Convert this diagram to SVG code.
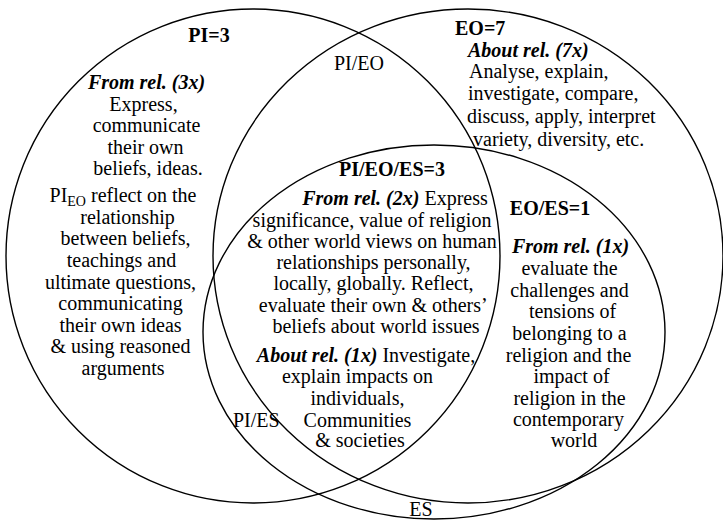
<svg xmlns="http://www.w3.org/2000/svg" width="723" height="520" viewBox="0 0 723 520">
<style>
.set{fill:none;stroke:#000;stroke-width:1.4}
text{font-family:"Liberation Serif","Times New Roman",serif;font-size:20px;fill:#000}
.b{font-weight:bold}
.bi{font-weight:bold;font-style:italic}
.c{text-anchor:middle}
</style>
<rect width="723" height="520" fill="#fff"/>
<g id="sets">
<g id="set-PI"><ellipse class="set" cx="253" cy="256" rx="247" ry="247"/></g>
<g id="set-EO"><ellipse class="set" cx="468" cy="256" rx="255" ry="247"/></g>
<g id="set-ES"><ellipse class="set" cx="434" cy="332" rx="231" ry="187"/></g>
</g>
<g id="connectors"></g>
<g id="region-PI">
<text class="b c" x="209" y="42">PI=3</text>
<text class="c" x="148">
<tspan class="bi" x="149" y="89">From rel. (3x)</tspan>
<tspan x="146" y="111">Express,</tspan>
<tspan x="149" y="132">communicate</tspan>
<tspan x="148" y="153.5">their own</tspan>
<tspan x="148" y="175">beliefs, ideas.</tspan>
</text>
<text class="c" x="123" y="202">PI<tspan font-size="14" dy="4">EO</tspan><tspan dy="-4"> reflect on the</tspan></text>
<text class="c">
<tspan x="130" y="223.5">relationship</tspan>
<tspan x="128" y="245">between beliefs,</tspan>
<tspan x="124" y="267">teachings and</tspan>
<tspan x="123" y="288.5">ultimate questions,</tspan>
<tspan x="123" y="310">communicating</tspan>
<tspan x="123" y="331.5">their own ideas</tspan>
<tspan x="123" y="353">&amp; using reasoned</tspan>
<tspan x="123" y="375">arguments</tspan>
</text>
</g>
<g id="region-PI-EO">
<text x="334" y="70">PI/EO</text>
</g>
<g id="region-EO">
<text class="b" x="455" y="35">EO=7</text>
<text class="bi" x="468" y="57">About rel. (7x)</text>
<text>
<tspan x="469" y="78">Analyse, explain,</tspan>
<tspan x="468" y="100">investigate, compare,</tspan>
<tspan x="467" y="123">discuss, apply, interpret</tspan>
<tspan x="473" y="146">variety, diversity, etc.</tspan>
</text>
</g>
<g id="region-PI-EO-ES">
<text class="b c" x="392" y="176">PI/EO/ES=3</text>
<text class="c" x="395" y="205"><tspan class="bi">From rel. (2x)</tspan> Express</text>
<text class="c">
<tspan x="374.5" y="227">significance, value of religion</tspan>
<tspan x="374.5" y="248">&amp; other world views on human</tspan>
<tspan x="376" y="269">relationships personally,</tspan>
<tspan x="376" y="290">locally, globally. Reflect,</tspan>
<tspan x="375" y="312">evaluate their own &amp; others’</tspan>
<tspan x="376" y="333">beliefs about world issues</tspan>
</text>
<text class="c" x="366" y="362"><tspan class="bi">About rel. (1x)</tspan> Investigate,</text>
<text class="c">
<tspan x="360" y="383">explain impacts on</tspan>
<tspan x="360" y="405">individuals,</tspan>
<tspan x="360" y="427">Communities</tspan>
<tspan x="360" y="447">&amp; societies</tspan>
</text>
</g>
<g id="region-PI-ES">
<text x="233" y="427">PI/ES</text>
</g>
<g id="region-EO-ES">
<text class="b c" x="550" y="215">EO/ES=1</text>
<text class="c">
<tspan class="bi" x="573" y="253">From rel. (1x)</tspan>
<tspan x="572" y="275">evaluate the</tspan>
<tspan x="572" y="297">challenges and</tspan>
<tspan x="575" y="318">tensions of</tspan>
<tspan x="572" y="340">belonging to a</tspan>
<tspan x="571" y="362">religion and the</tspan>
<tspan x="574" y="383">impact of</tspan>
<tspan x="572" y="405">religion in the</tspan>
<tspan x="571" y="426">contemporary</tspan>
<tspan x="574" y="447">world</tspan>
</text>
</g>
<g id="region-ES">
<text class="c" x="421" y="516">ES</text>
</g>
</svg>
